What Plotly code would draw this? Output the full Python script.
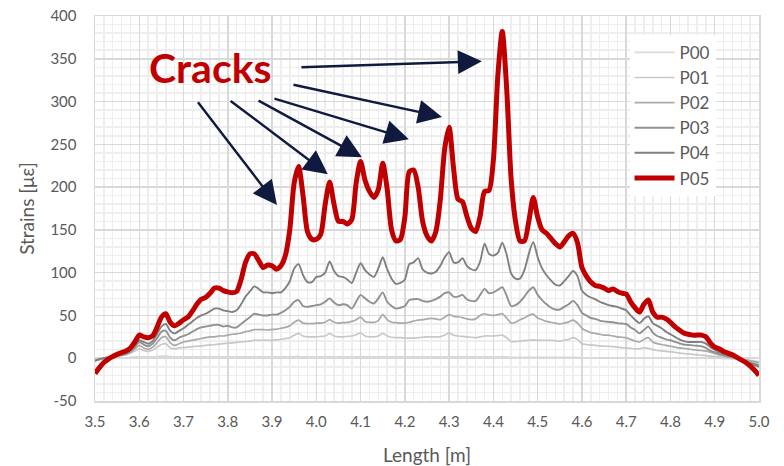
import plotly.graph_objects as go

# ---------------- data ----------------
LENGTH_M = [round(3.5 + 0.01 * i, 2) for i in range(151)]

P05 = [-18, -11, -5, -1, 2, 4.5, 6.5, 8.5, 12, 19,
       27, 25, 24, 26, 36, 48, 52, 42, 38, 41,
       45, 48, 55, 63, 69, 71, 76, 82, 82, 79,
       77.5, 76.5, 78, 92, 112, 122, 122, 114, 106, 109,
       108, 104, 108, 120, 150, 205, 224, 190, 148, 139,
       139, 145, 180, 206, 180, 160, 160, 157, 162, 205,
       230, 208, 195, 188, 197, 228, 198, 150, 137, 139,
       165, 218, 220, 200, 160, 143, 137, 148, 185, 245,
       270, 222, 186, 183, 166, 152, 148, 166, 195, 196,
       232, 330, 382, 315, 210, 160, 137, 137, 160, 188,
       165, 150, 146, 140, 134, 130, 136, 143, 146, 135,
       106, 96, 89, 85, 84, 82, 79, 81, 78, 76,
       75, 66, 59, 54, 63, 68, 54, 48, 48, 46,
       42, 37, 33, 29.5, 28, 27, 27, 27, 25, 18,
       13, 11, 8, 6, 4, 1, -2, -5, -9, -14,
       -20]

P04 = [-3, -1, 0, 1, 2, 3.5, 5, 7, 10, 15,
       21, 19, 17, 20, 28, 37, 40, 32, 29, 32,
       35, 39, 43, 47, 50, 52, 55, 58, 58, 56,
       55, 54, 56, 63, 72, 78, 84, 81, 77, 77,
       76, 77, 77, 82, 90, 105, 110, 97, 89, 89,
       95, 96, 100, 113, 102, 96, 95, 92, 88, 100,
       111, 103, 98, 95, 105, 118, 104, 93, 87, 88,
       92, 110, 112, 117, 104, 100, 99, 101, 108, 118,
       124, 112, 112, 117, 108, 104, 103, 113, 134, 122,
       120, 123, 135, 121, 99, 93, 93, 103, 122, 136,
       118, 105, 97, 91, 86, 85, 90, 96, 102, 96,
       79, 74, 71, 69, 66, 64, 62, 61, 60, 58,
       56, 50, 45, 41, 46, 49, 41, 38, 35, 31,
       28, 25, 22, 20, 19, 19, 19, 19, 17, 13,
       10, 7, 5, 3.5, 2, 0, -2, -4, -6, -8,
       -10]

P03 = [-3, -1, 0, 1, 2, 3, 4, 5, 8, 13,
       19, 16, 14, 17, 23, 31, 32, 24, 21, 24,
       26, 28, 31, 34, 36, 37, 38, 39, 39, 37,
       38, 36, 36, 40, 44, 48, 52, 51, 50, 50,
       51, 51, 53, 56, 60, 66, 68, 61, 60, 61,
       62, 63, 66, 70, 65, 62, 63, 62, 58, 66,
       74, 70, 66, 64, 70, 77, 66, 61, 58, 59,
       61, 68, 69, 69, 67, 66, 67, 69, 72, 76,
       77, 72, 72, 74, 69, 67, 67, 74, 81, 76,
       77, 80, 83, 73, 61, 62, 66, 72, 79, 83,
       74, 68, 63, 59, 57, 57, 60, 63, 67, 62,
       53, 50, 47, 46, 44, 43, 42.5, 42, 41, 40.5,
       40, 36, 33, 29, 33, 37, 30, 26, 24, 22,
       21, 19, 17.5, 16, 15.5, 15, 14.5, 14, 12, 9,
       7, 5, 3.5, 2, 1, 0, -1.5, -3.5, -5, -6.5,
       -8]

P02 = [-3, -1.5, 0, 1, 2, 2.5, 3.5, 4.5, 7, 11,
       15, 12, 10.5, 13, 18, 24, 25, 18, 15, 17,
       19, 20, 21, 22, 23, 24, 25, 25, 26, 26,
       27, 28, 28.5, 29.5, 31, 32, 33.5, 33.5, 33.5, 33,
       33.5, 34, 35, 36, 38, 42, 44.5, 41, 40.5, 40.5,
       41, 41, 42, 45, 42, 41, 41.5, 42, 43, 45,
       48, 43, 42, 42, 44, 51, 45, 42, 41.5, 41,
       41, 42, 43.5, 44.5, 45, 46, 46.5, 46, 45, 48,
       51, 49, 48.5, 47.5, 46, 45, 46, 50, 52, 50.5,
       50, 51, 52, 47, 41, 42, 45, 47, 50, 51.5,
       47, 45, 43, 42, 41, 40, 41, 42.5, 44.5, 41,
       35, 32, 30, 29, 28, 27, 27, 26, 25, 24.5,
       24, 22, 20, 19, 22, 24, 19, 17, 16, 15,
       14, 13, 12, 11.5, 11, 10, 9.5, 9, 8.5, 7,
       5.5, 4, 3, 2, 1, 0, -1, -2, -3, -4,
       -5]

P01 = [-3, -1.5, 0, 0.5, 1.5, 2, 3, 4, 6, 8.5,
       11, 9, 8, 9.5, 13, 16, 17, 12, 11, 12,
       12.5, 13, 13.5, 14, 14.5, 15, 15.5, 16, 16.5, 17,
       17.5, 18, 18.5, 19, 19.5, 20, 21, 21, 21, 21,
       21, 21.5, 22, 23, 24, 27, 29, 26, 25, 25,
       25, 25.5, 26, 29, 26, 25, 25, 25.5, 26, 27.5,
       29.5, 26, 25, 25, 26, 29, 26, 24.5, 24, 24,
       23.5, 23.5, 23.5, 24, 24.5, 25, 25, 25, 25, 27,
       29.5, 27, 26, 25.5, 25, 24.5, 24, 25, 26, 26,
       26, 26.5, 27, 24, 19.5, 19.5, 20, 20.5, 21, 21.5,
       21, 21, 21, 21, 20.5, 20, 21, 22, 24, 22,
       17, 16, 15.5, 15, 14.5, 14, 14, 13.5, 13, 12.5,
       12, 11.5, 11, 11, 12, 11.5, 10, 9, 8.5, 8,
       7.5, 7, 6, 5.5, 5, 4.5, 4, 3.5, 3, 2.5,
       2, 1.5, 1, 0.5, 0, -0.5, -1, -2, -3, -4,
       -5]

P00 = [-3, -2, -1, -0.5, 0, 0, 0.5, 0.5, 1, 1.5,
       2, 1.5, 1.5, 1.5, 2, 2.5, 2.5, 2, 1.5, 1.5,
       1.5, 1.5, 1.5, 1.5, 1.5, 1.5, 1.5, 1.5, 1.5, 1.5,
       1.5, 1.5, 1.5, 1.5, 1.5, 1.5, 1.5, 1.5, 1.5, 1.5,
       1.5, 1.5, 1.5, 1.5, 1.5, 2, 2, 1.5, 1.5, 1.5,
       1.5, 1.5, 1.5, 2, 1.5, 1.5, 1.5, 1.5, 1.5, 1.5,
       2, 1.5, 1.5, 1.5, 1.5, 2, 1.5, 1.5, 1.5, 1.5,
       1.5, 1.5, 1.5, 1.5, 1.5, 1.5, 1.5, 1.5, 1.5, 1.5,
       2, 1.5, 1.5, 1.5, 1.5, 1.5, 1.5, 1.5, 1.5, 1.5,
       1.5, 1.5, 2, 1.5, 1, 1, 1, 1, 1, 1,
       1, 1, 1, 1, 1, 1, 1, 1, 1, 1,
       0.5, 0.5, 0.5, 0.5, 0.5, 0.5, 0.5, 0.5, 0.5, 0.5,
       0.5, 0.5, 0.5, 0.5, 0.5, 0.5, 0.5, 0.5, 0.5, 0.5,
       0, 0, 0, 0, 0, 0, 0, 0, 0, 0,
       0, 0, -0.5, -0.5, -1, -1, -1.5, -2, -2.5, -3,
       -4]

SERIES = ["P00", "P01", "P02", "P03", "P04", "P05"]
VALUES = [P00, P01, P02, P03, P04, P05]
COLORS = ["#d9d9d9", "#c8c8c8", "#a9a9a9", "#919191", "#808080", "#c00000"]
WIDTHS = [1.7, 1.7, 1.7, 1.9, 1.9, 5.0]

X_TICKS = [round(3.5 + 0.1 * i, 1) for i in range(16)]
Y_TICKS = [-50, 0, 50, 100, 150, 200, 250, 300, 350, 400]
Y_TICKTEXT = ["-50", "0", "50", "100", "150", "200", "250", "300", "350", "400"]

# arrows: (tail x, tail y, head x, head y) in data units
ARROWS = [
    (3.963, 340, 4.374, 347),
    (3.945, 320, 4.284, 282),
    (3.902, 304, 4.209, 256),
    (3.866, 302, 4.103, 235),
    (3.803, 302, 4.026, 215),
    (3.730, 301, 3.911, 179),
]

FONT = "Lato"

fig = go.Figure()
for name, vals, col, w in zip(SERIES, VALUES, COLORS, WIDTHS):
    fig.add_trace(go.Scatter(
        x=LENGTH_M, y=vals, name=name, mode="lines",
        line=dict(color=col, width=w, shape="spline", smoothing=0.7),
        hoverinfo="skip",
    ))

annotations = []
for tx, ty, hx, hy in ARROWS:
    annotations.append(dict(
        x=hx, y=hy, ax=tx, ay=ty, xref="x", yref="y", axref="x", ayref="y",
        text="", showarrow=True, arrowhead=2, arrowsize=2.0, arrowwidth=2.4,
        arrowcolor="#101a3e", standoff=0,
    ))
annotations.append(dict(
    x=3.761, y=340, xref="x", yref="y", text="<b>Cracks</b>", showarrow=False,
    font=dict(family=FONT, size=41, color="#c00000"), xanchor="center", yanchor="middle",
))

fig.update_layout(
    width=784, height=466,
    margin=dict(l=95, r=25, t=16, b=65, autoexpand=False),
    paper_bgcolor="white", plot_bgcolor="white",
    font=dict(family=FONT, color="#595959"),
    showlegend=True,
    legend=dict(
        x=0.805, y=0.951, xanchor="left", yanchor="top",
        bgcolor="white", borderwidth=0,
        font=dict(family=FONT, size=17, color="#595959"),
        tracegroupgap=0, itemwidth=40,
    ),
    annotations=annotations,
)

fig.update_xaxes(
    range=[3.5, 5.0], tickvals=X_TICKS, tickformat=".1f", automargin=False,
    showgrid=True, gridcolor="#d9d9d9", gridwidth=1.5,
    minor=dict(dtick=0.02, showgrid=True, gridcolor="#eeeeee", gridwidth=1.5),
    showline=True, linecolor="#d9d9d9", linewidth=1.5, mirror=True,
    zeroline=False, ticks="", ticklabelstandoff=6, ticklabeloverflow="allow",
    tickfont=dict(family=FONT, size=15, color="#595959"),
    title=dict(text="Length [m]", font=dict(family=FONT, size=19, color="#595959"), standoff=22),
)
fig.update_yaxes(
    range=[-50, 400], tickvals=Y_TICKS, ticktext=Y_TICKTEXT, automargin=False,
    showgrid=True, gridcolor="#d9d9d9", gridwidth=1.5,
    minor=dict(dtick=10, showgrid=True, gridcolor="#eeeeee", gridwidth=1.5),
    showline=True, linecolor="#d9d9d9", linewidth=1.5, mirror=True,
    zeroline=False, ticks="", ticklabelstandoff=14, ticklabeloverflow="allow",
    tickfont=dict(family=FONT, size=15, color="#595959"),
    title=dict(text="Strains [με]", font=dict(family=FONT, size=19, color="#595959"), standoff=10),
)

# remove the default 8px page margin so the 784x466 figure fills the window
fig.write_html(
    "out.html",
    config={"displayModeBar": False, "staticPlot": True},
    post_script="document.body.style.margin='0';",
)
